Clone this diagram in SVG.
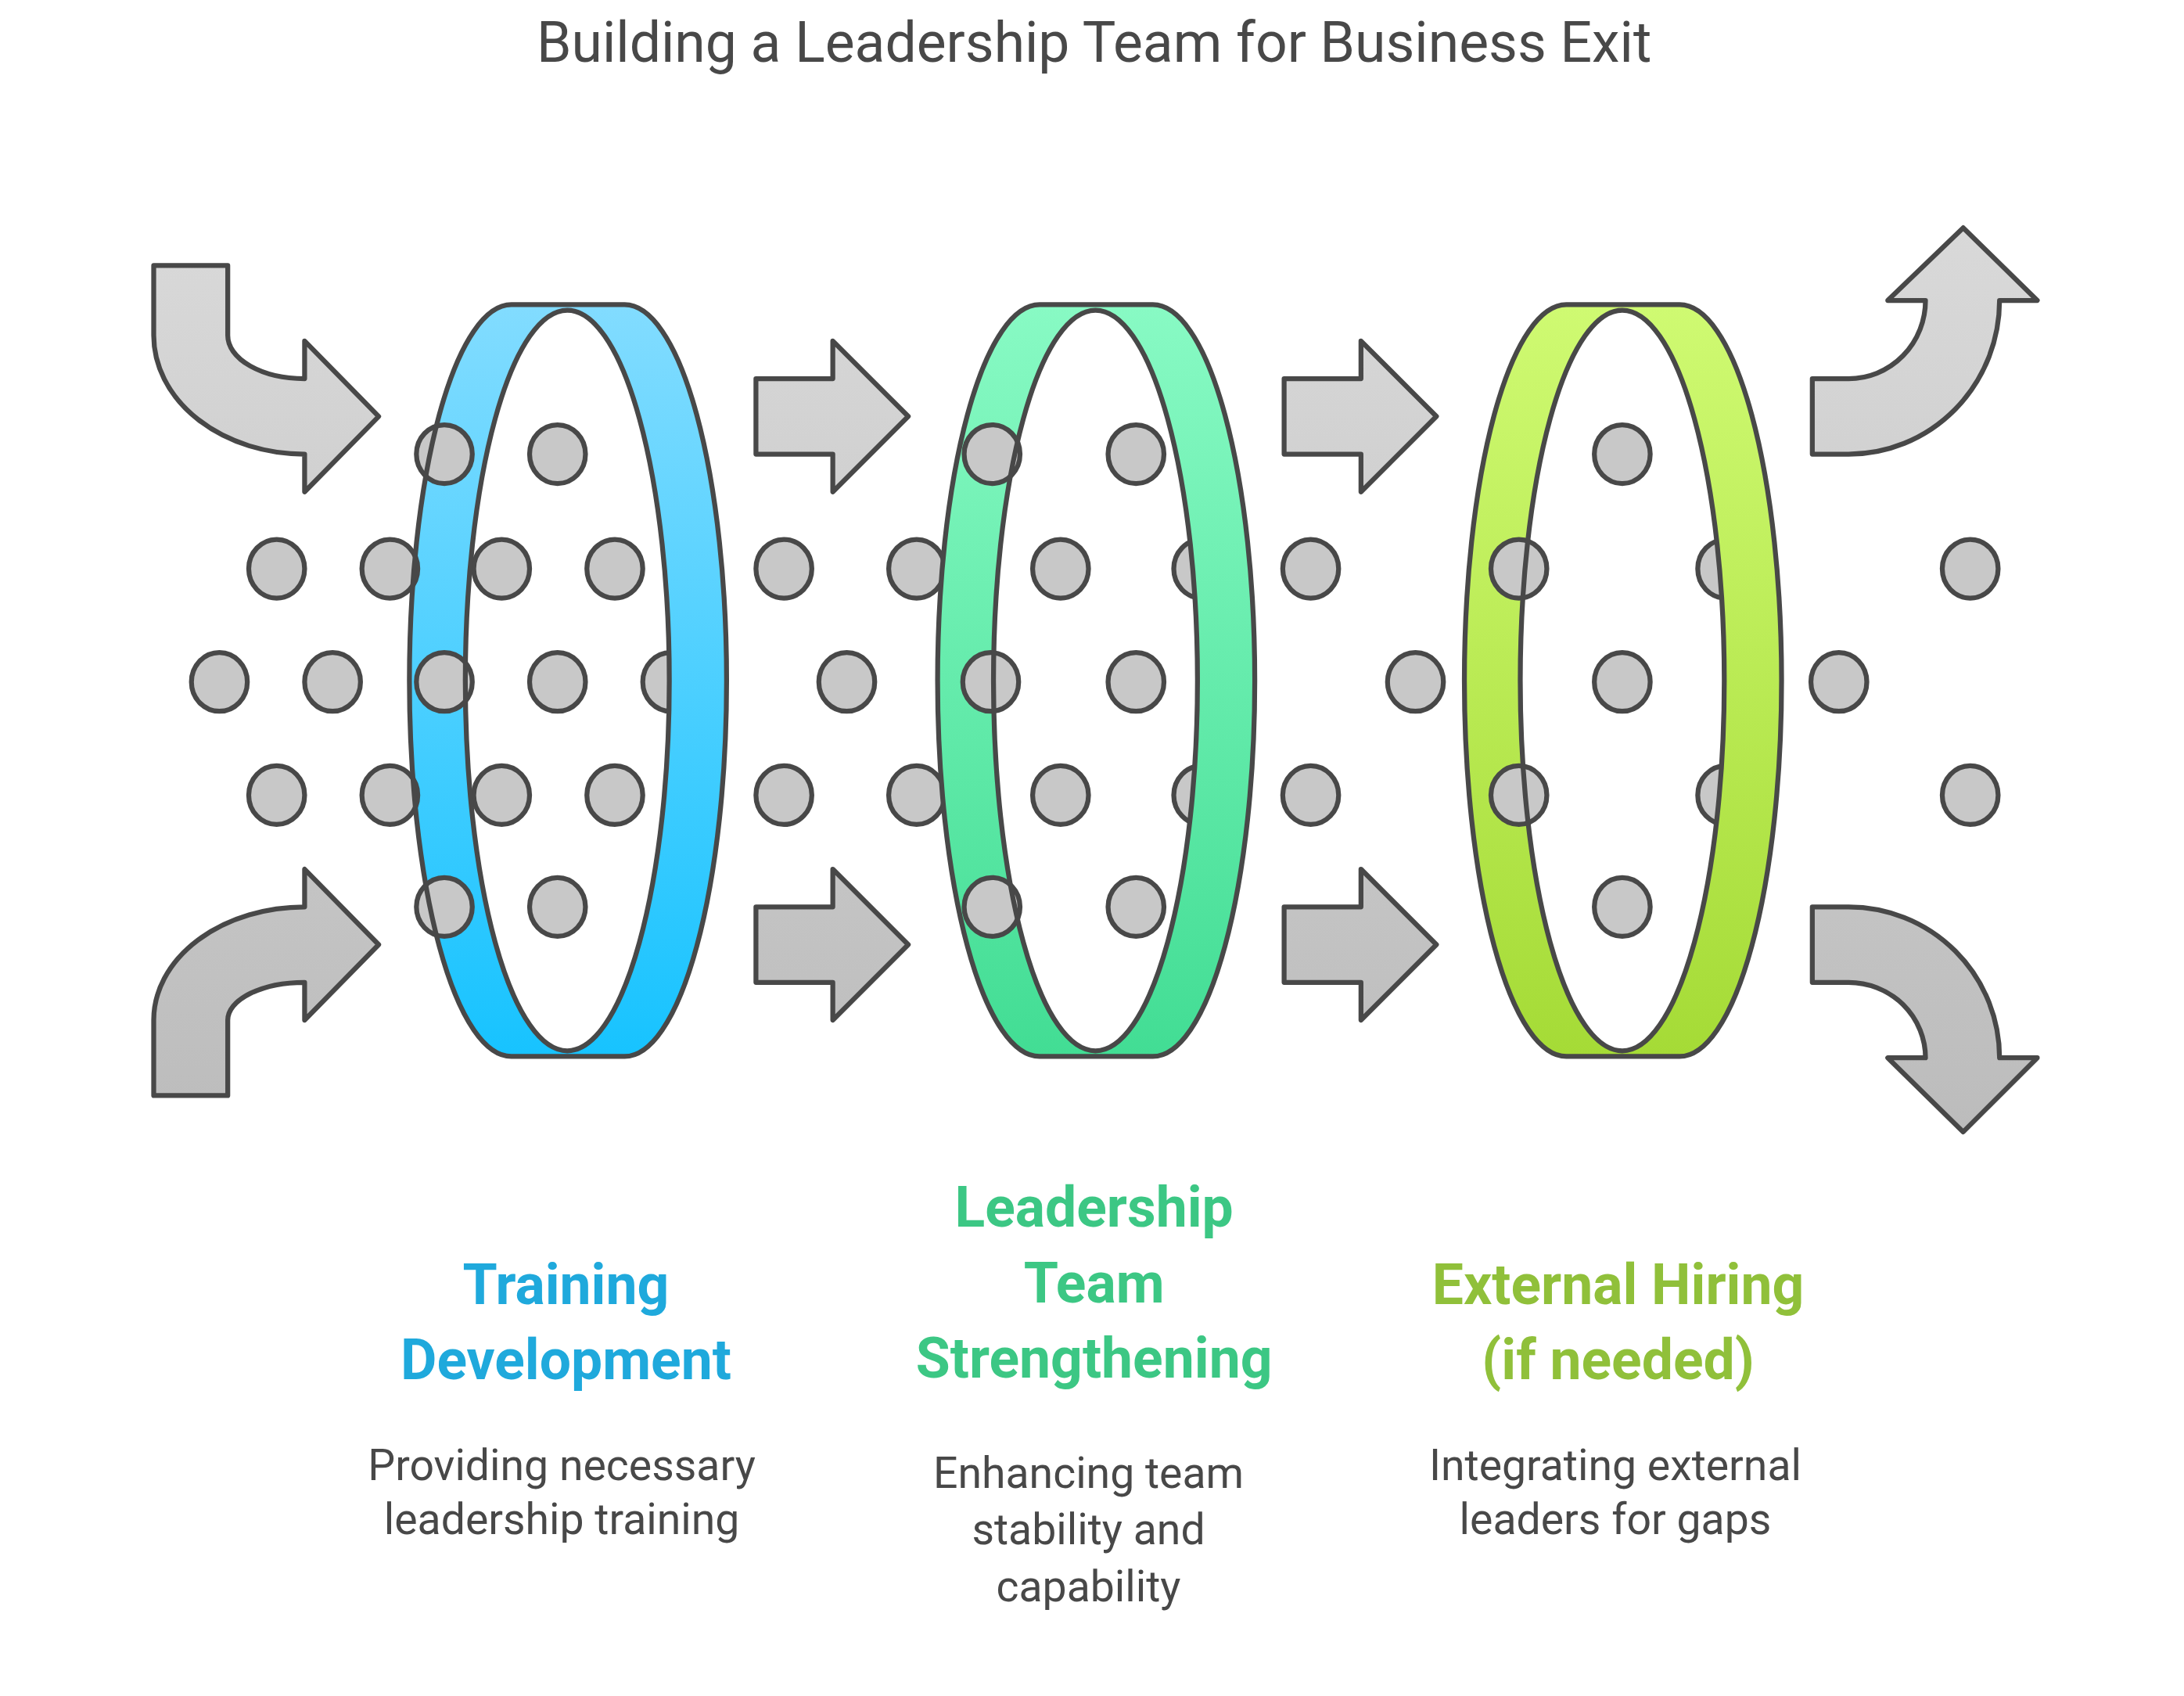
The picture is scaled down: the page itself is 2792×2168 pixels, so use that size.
<svg xmlns="http://www.w3.org/2000/svg" width="2792" height="2168" viewBox="0 0 2792 2168">
<defs>
<linearGradient id="ga" gradientUnits="userSpaceOnUse" x1="0" y1="160" x2="0" y2="812"><stop offset="0" stop-color="#d9d9d9"/><stop offset="1" stop-color="#bcbcbc"/></linearGradient>
<linearGradient id="gb" x1="0" y1="0" x2="0" y2="1"><stop offset="0" stop-color="#82dcff"/><stop offset="1" stop-color="#17c3ff"/></linearGradient>
<linearGradient id="gg" x1="0" y1="0" x2="0" y2="1"><stop offset="0" stop-color="#88fac4"/><stop offset="1" stop-color="#42dd94"/></linearGradient>
<linearGradient id="gy" x1="0" y1="0" x2="0" y2="1"><stop offset="0" stop-color="#cffa72"/><stop offset="1" stop-color="#a5db36"/></linearGradient>
<g id="dot"><ellipse rx="20" ry="21" fill="#c8c8c8" stroke="#484848" stroke-width="3.5"/></g>
</defs>
<style>
.ar{fill:url(#ga);stroke:#484848;stroke-width:3.5;stroke-linejoin:round}
.ln{fill:none;stroke:#484848;stroke-width:3.5;stroke-linejoin:round}
.t{font-family:Roboto,"Liberation Sans",sans-serif;text-anchor:middle}
.h{font-weight:bold;font-size:40px}
.d{font-size:31px;fill:#484848}
</style>
<rect width="2792" height="2168" fill="#fff"/>
<g transform="scale(1.7863)">
<text class="t" x="783" y="44" font-size="40" fill="#484848">Building a Leadership Team for Business Exit</text>
<g id="connectors">
<path class="ar" d="M110,190 H163 V240 A55,31 0 0 0 218,271 V244 L271,298 L218,352 V325 A108,85 0 0 1 110,240 Z"/>
<path class="ar" d="M110,784 H163 V730 A55,27 0 0 1 218,703 V730 L271,676 L218,622 V649 A108,81 0 0 0 110,730 Z"/>
<path class="ar" d="M541,271 H596 V244 L650,298 L596,352 V325 H541 Z"/>
<path class="ar" d="M541,649 H596 V622 L650,676 L596,730 V703 H541 Z"/>
<path class="ar" d="M919,271 H974 V244 L1028,298 L974,352 V325 H919 Z"/>
<path class="ar" d="M919,649 H974 V622 L1028,676 L974,730 V703 H919 Z"/>
<path class="ar" d="M1297,271 H1323 A55,56 0 0 0 1378,215 H1351 L1405,163 L1458,215 H1431 A108,110 0 0 1 1323,325 H1297 Z"/>
<path class="ar" d="M1297,649 H1323 A108,108 0 0 1 1431,757 H1458 L1405,810 L1351,757 H1378 A55,54 0 0 0 1323,703 H1297 Z"/>
</g>
<g id="ring1">
<path d="M366,218 H447 A73,269 0 0 1 447,756 H366 A73,269 0 0 1 366,218 Z" fill="url(#gb)"/>
<ellipse cx="406" cy="487" rx="73" ry="265" fill="#fff"/>
<use href="#dot" x="318" y="325"/><use href="#dot" x="399" y="325"/>
<use href="#dot" x="198" y="407"/><use href="#dot" x="279" y="407"/><use href="#dot" x="359" y="407"/><use href="#dot" x="440" y="407"/>
<use href="#dot" x="157" y="488"/><use href="#dot" x="238" y="488"/><use href="#dot" x="318" y="488"/><use href="#dot" x="399" y="488"/><use href="#dot" x="480" y="488"/>
<use href="#dot" x="198" y="569"/><use href="#dot" x="279" y="569"/><use href="#dot" x="359" y="569"/><use href="#dot" x="440" y="569"/>
<use href="#dot" x="318" y="649"/><use href="#dot" x="399" y="649"/>
<use href="#dot" x="561" y="407"/><use href="#dot" x="656" y="407"/><use href="#dot" x="606" y="488"/><use href="#dot" x="561" y="569"/><use href="#dot" x="656" y="569"/>
<path d="M406,222 L447,218 A73,269 0 0 1 447,756 L406,752 A73,265 0 0 0 406,222 Z" fill="url(#gb)"/>
<path class="ln" d="M366,218 H447 A73,269 0 0 1 447,756 H366 A73,269 0 0 1 366,218 Z"/>
<ellipse class="ln" cx="406" cy="487" rx="73" ry="265"/>
</g>
<g id="ring2">
<path d="M744,218 H825 A73,269 0 0 1 825,756 H744 A73,269 0 0 1 744,218 Z" fill="url(#gg)"/>
<ellipse cx="784" cy="487" rx="73" ry="265" fill="#fff"/>
<use href="#dot" x="710" y="325"/><use href="#dot" x="813" y="325"/>
<use href="#dot" x="759" y="407"/><use href="#dot" x="860" y="407"/>
<use href="#dot" x="709" y="488"/><use href="#dot" x="813" y="488"/>
<use href="#dot" x="759" y="569"/><use href="#dot" x="860" y="569"/>
<use href="#dot" x="710" y="649"/><use href="#dot" x="813" y="649"/>
<use href="#dot" x="938" y="407"/><use href="#dot" x="1013" y="488"/><use href="#dot" x="938" y="569"/>
<path d="M784,222 L825,218 A73,269 0 0 1 825,756 L784,752 A73,265 0 0 0 784,222 Z" fill="url(#gg)"/>
<path class="ln" d="M744,218 H825 A73,269 0 0 1 825,756 H744 A73,269 0 0 1 744,218 Z"/>
<ellipse class="ln" cx="784" cy="487" rx="73" ry="265"/>
</g>
<g id="ring3">
<path d="M1121,218 H1202 A73,269 0 0 1 1202,756 H1121 A73,269 0 0 1 1121,218 Z" fill="url(#gy)"/>
<ellipse cx="1161" cy="487" rx="73" ry="265" fill="#fff"/>
<use href="#dot" x="1161" y="325"/>
<use href="#dot" x="1087" y="407"/><use href="#dot" x="1235" y="407"/>
<use href="#dot" x="1161" y="488"/>
<use href="#dot" x="1087" y="569"/><use href="#dot" x="1235" y="569"/>
<use href="#dot" x="1161" y="649"/>
<use href="#dot" x="1410" y="407"/><use href="#dot" x="1316" y="488"/><use href="#dot" x="1410" y="569"/>
<path d="M1161,222 L1202,218 A73,269 0 0 1 1202,756 L1161,752 A73,265 0 0 0 1161,222 Z" fill="url(#gy)"/>
<path class="ln" d="M1121,218 H1202 A73,269 0 0 1 1202,756 H1121 A73,269 0 0 1 1121,218 Z"/>
<ellipse class="ln" cx="1161" cy="487" rx="73" ry="265"/>
</g>
<g id="label1">
<text class="t h" x="405" y="933" fill="#1fa9dc">Training</text>
<text class="t h" x="405" y="987" fill="#1fa9dc">Development</text>
<text class="t d" x="402" y="1059">Providing necessary</text>
<text class="t d" x="402" y="1098">leadership training</text>
</g>
<g id="label2">
<text class="t h" x="783" y="878" fill="#3cc784">Leadership</text>
<text class="t h" x="783" y="932" fill="#3cc784">Team</text>
<text class="t h" x="783" y="986" fill="#3cc784">Strengthening</text>
<text class="t d" x="779" y="1065">Enhancing team</text>
<text class="t d" x="779" y="1105">stability and</text>
<text class="t d" x="779" y="1146">capability</text>
</g>
<g id="label3">
<text class="t h" x="1158" y="933" fill="#90c03a">External Hiring</text>
<text class="t h" x="1158" y="987" fill="#90c03a">(if needed)</text>
<text class="t d" x="1156" y="1059">Integrating external</text>
<text class="t d" x="1156" y="1098">leaders for gaps</text>
</g>
</g>
</svg>
